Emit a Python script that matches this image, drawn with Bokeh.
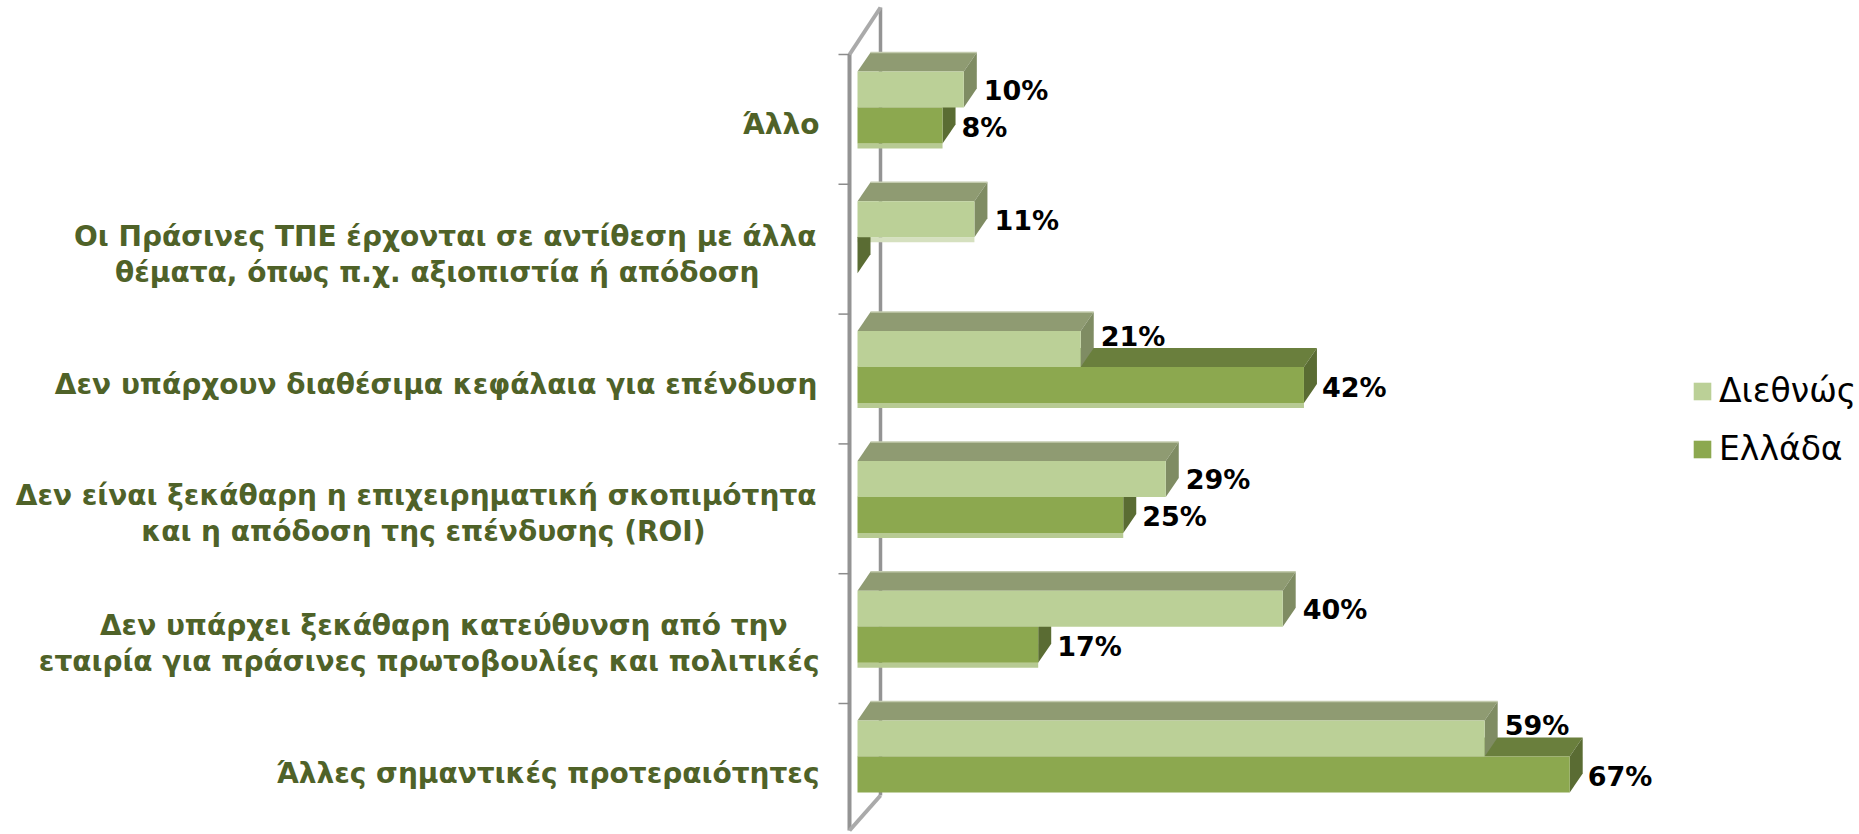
from bokeh.plotting import figure
from bokeh.models import Range1d, Legend, LegendItem
from bokeh.core.properties import value
from bokeh.embed import file_html
from bokeh.resources import INLINE

# ---- data (bottom group first) ----
categories = [
    "Άλλες σημαντικές προτεραιότητες",
    "Δεν υπάρχει ξεκάθαρη κατεύθυνση από την\nεταιρία για πράσινες πρωτοβουλίες και πολιτικές",
    "Δεν είναι ξεκάθαρη η επιχειρηματική σκοπιμότητα\nκαι η απόδοση της επένδυσης (ROI)",
    "Δεν υπάρχουν διαθέσιμα κεφάλαια για επένδυση",
    "Οι Πράσινες ΤΠΕ έρχονται σε αντίθεση με άλλα\nθέματα, όπως π.χ. αξιοπιστία ή απόδοση",
    "Άλλο",
]
intl = [59, 40, 29, 21, 11, 10]
greece = [67, 17, 25, 42, 0, 8]
series_names = ["Διεθνώς", "Ελλάδα"]

# ---- layout (pixels) ----
W, H = 1859, 834
PXX = 10.63     # px per percent
PXY = 129.8     # px per group
X0 = 857        # canvas x of 0 %
Y0 = 756        # canvas y of group 0 boundary
BAR_H = 36 / PXY
DX = 13 / PXX
DY = 19 / PXY
STRIP = 5 / PXY
FONT = "DejaVu Sans"

p = figure(width=W, height=H, output_backend="svg", toolbar_location=None,
           x_range=Range1d(-X0 / PXX, (W - X0) / PXX),
           y_range=Range1d((Y0 - H) / PXY, Y0 / PXY),
           min_border=0, outline_line_color=None)
p.axis.visible = False
p.grid.visible = False
p.background_fill_color = "white"
p.border_fill_color = "white"

n = len(categories)
idx = list(range(n))

# ---- walls and axis ----
GREY = "#949494"
fx, bx = -8 / PXX, 23 / PXX
edge = 53 / PXY
top_t = n - 1 + edge
bot_t = -74 / PXY
top_b = top_t + 47 / PXY
bot_b = bot_t + 35 / PXY
p.segment(x0=[bx], y0=[bot_b], x1=[bx], y1=[top_b], line_color=GREY, line_width=3.5)
p.segment(x0=[fx], y0=[bot_t], x1=[fx], y1=[top_t], line_color=GREY, line_width=4)
p.segment(x0=[fx, fx], y0=[bot_t, top_t], x1=[bx, bx], y1=[bot_b, top_b],
          line_color="#aaaaaa", line_width=4)
tk = [i + edge for i in idx]
p.segment(x0=[fx - 11 / PXX] * n, y0=tk, x1=[fx] * n, y1=tk, line_color="#8c8c8c", line_width=1.5)

# ---- pale strip under the lowest bar of each group ----
for i in idx[1:]:
    if greece[i] > 0:
        p.quad(left=[0], right=[greece[i]], top=[i - BAR_H], bottom=[i - BAR_H - STRIP],
               fill_color="#B7CA93", line_color=None)
    else:
        p.quad(left=[0], right=[intl[i]], top=[i], bottom=[i - STRIP],
               fill_color="#D5E0BF", line_color=None)


def bar3d(vals, low, front, top, side):
    hi = [b + BAR_H for b in low]
    p.patches(xs=[[0, v, v + DX, DX] for v in vals],
              ys=[[h, h, h + DY, h + DY] for h in hi],
              fill_color=top, line_color=None)
    p.patches(xs=[[v, v + DX, v + DX, v] for v in vals],
              ys=[[l, l + DY, h + DY, h] for l, h in zip(low, hi)],
              fill_color=side, line_color=None)
    return p.quad(left=[0] * n, right=vals, bottom=low, top=hi, fill_color=front, line_color=None)


r_gr = bar3d(greece, [i - BAR_H for i in idx], "#8CA84F", "#6A7F3D", "#5A6C33")
r_in = bar3d(intl, [float(i) for i in idx], "#BBD097", "#8F9B72", "#7F8C63")
p.segment(x0=[DX] * n, y0=[i + BAR_H + DY for i in idx],
          x1=[v + DX for v in intl], y1=[i + BAR_H + DY for i in idx],
          line_color="#C3CBAE", line_width=1.5)

# ---- value labels ----
p.text(x=[v + 20 / PXX for v in intl],
       y=[i + (31 if g > v else 17) / PXY for i, v, g in zip(idx, intl, greece)],
       text=[f"{v}%" for v in intl],
       text_font=value(FONT), text_font_style="bold", text_font_size="27px",
       text_color="black", text_baseline="middle", text_align="left")
gi = [i for i in idx if greece[i] > 0]
p.text(x=[greece[i] + (18 if greece[i] > intl[i] else 19) / PXX for i in gi],
       y=[i - 20 / PXY for i in gi],
       text=[f"{greece[i]}%" for i in gi],
       text_font=value(FONT), text_font_style="bold", text_font_size="27px",
       text_color="black", text_baseline="middle", text_align="left")

# ---- category labels, one glyph row per line ----
RIGHT = [[819], [787, 819], [816, 705], [817], [816, 759], [819]]
LINE_DY = 36
lx, ly, lt = [], [], []
for i, c in enumerate(categories):
    lines = c.split("\n")
    for j, t in enumerate(lines):
        lt.append(t)
        lx.append((RIGHT[i][j] - X0) / PXX)
        ly.append(i - (17 + (j - (len(lines) - 1) / 2) * LINE_DY) / PXY)
p.text(x=lx, y=ly, text=lt, text_font=value(FONT), text_font_style="bold",
       text_font_size="28px", text_color="#4F6228", text_baseline="middle", text_align="right")

# ---- legend ----
legend = Legend(items=[LegendItem(label=series_names[0], renderers=[r_in]),
                       LegendItem(label=series_names[1], renderers=[r_gr])],
                location=(1691, 366), orientation="vertical",
                glyph_width=22, glyph_height=22, label_standoff=6,
                label_text_font=FONT, label_text_font_size="33px", label_text_color="black",
                spacing=19, padding=0, margin=0,
                border_line_color=None, background_fill_alpha=0)
p.add_layout(legend)

open("out.html", "w").write(file_html(p, INLINE))
